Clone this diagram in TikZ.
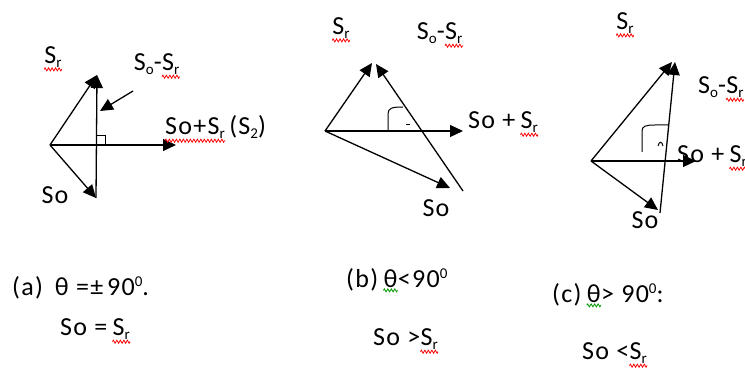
\documentclass[tikz,border=0pt]{standalone}
\usepackage{fontspec}
\setmainfont[LetterSpace=5]{Carlito}
\usetikzlibrary{arrows.meta,decorations.pathmorphing}
\newcommand\sbs[1]{\raisebox{-3.5pt}{\fontsize{15}{15}\selectfont #1}}
\newcommand\sps[1]{\raisebox{9pt}{\fontsize{15}{15}\selectfont #1}}
\begin{document}
\begin{tikzpicture}[x=1pt,y=-1pt,
  vec/.style={-{Triangle[length=13pt,width=12pt]}, line width=1.3pt},
  anglemark/.style={line width=1pt},
  lbl/.style={font=\fontsize{26}{30}\selectfont, inner sep=0pt},
  wav/.style={draw=red, line width=0.8pt, decorate,
    decoration={zigzag, segment length=3.5pt, amplitude=1.5pt}}]
\newcommand\wv[2][red]{\draw[wav,draw=#1] ([yshift=-2pt]#2.south west) -- ([yshift=-2pt]#2.south east);}
\useasboundingbox (0,0) rectangle (745,371);
\clip (0,0) rectangle (745,371);
% ---------- (a)
\coordinate (O1) at (50,145);
\coordinate (A1) at (97,75);
\coordinate (B1) at (96,198);
\coordinate (H1) at (176,145);
\coordinate (P1s) at (133,91);
\coordinate (P1e) at (100,111);
\draw[vec] (O1) -- (A1);
\draw[vec] (O1) -- (B1);
\draw[vec] (O1) -- (H1);
\draw[vec] (B1) -- (A1);
\draw[anglemark] (96,136) -- (105,136) -- (105,145);
\draw[vec] (P1s) -- (P1e);
\node[lbl] (Lsr1) at (53,57) {S\sbs{r}}; \wv{Lsr1}
\node[lbl, anchor=base east] (Ldiff1a) at (162,71) {S\sbs{o}-};
\node[lbl, anchor=base west] (Ldiff1b) at (Ldiff1a.base east) {S\sbs{r}}; \wv{Ldiff1b}
\node[lbl, anchor=base west] (Lsum1a) at (165,135) {So+S\sbs{r}}; \wv{Lsum1a}
\node[lbl, anchor=base west] (Lsum1b) at (Lsum1a.base east) {\kern4pt(S\sbs{2})};
\node[lbl] (Lso1) at (55,195) {So};
% ---------- (b)
\coordinate (O2) at (325,131);
\coordinate (A2) at (372,63);
\coordinate (A2b) at (376,64);
\coordinate (H2) at (463,131);
\coordinate (B2) at (450,188);
\coordinate (C2) at (463,191);
\draw[vec] (O2) -- (A2);
\draw[vec] (O2) -- (H2);
\draw[vec] (O2) -- (B2);
\draw[vec] (C2) -- (A2b);
\draw[anglemark] (388,131) -- (388,114) .. controls (388,108) and (392,107) .. (403,107);
\draw[anglemark] (406,125) -- (410,125);
\node[lbl] (Lsr2) at (341,28) {S\sbs{r}}; \wv{Lsr2}
\node[lbl, anchor=base east] (Ldiff2a) at (445,40) {S\sbs{o}-};
\node[lbl, anchor=base west] (Ldiff2b) at (Ldiff2a.base east) {S\sbs{r}}; \wv{Ldiff2b}
\node[lbl, anchor=base west] (Lsum2a) at (468,129) {So +\kern5pt};
\node[lbl, anchor=base west] (Lsum2b) at (Lsum2a.base east) {S\sbs{r}}; \wv{Lsum2b}
\node[lbl] (Lso2) at (436,208) {So};
% ---------- (c)
\coordinate (O3) at (591,161);
\coordinate (A3) at (672,62);
\coordinate (A3b) at (675,62);
\coordinate (H3) at (696,161);
\coordinate (B3) at (658,210);
\coordinate (C3) at (660,213);
\draw[vec] (O3) -- (A3);
\draw[vec] (O3) -- (H3);
\draw[vec] (O3) -- (B3);
\draw[vec] (C3) -- (A3b);
\draw[anglemark] (642,152) -- (642,131) .. controls (642,126) and (646,125) .. (655,125) -- (668,125);
\draw[anglemark] (658,146) .. controls (659,141) and (662,141) .. (663,146);
\node[lbl] (Lsr3) at (625,23) {S\sbs{r}}; \wv{Lsr3}
\node[lbl, anchor=base west] (Ldiff3a) at (698,94) {S\sbs{o}-};
\node[lbl, anchor=base west] (Ldiff3b) at (Ldiff3a.base east) {S\sbs{r}}; \wv{Ldiff3b}
\node[lbl, anchor=base west] (Lsum3a) at (677,163) {So +\kern5pt};
\node[lbl, anchor=base west] (Lsum3b) at (Lsum3a.base east) {S\sbs{r}}; \wv{Lsum3b}
\node[lbl] (Lso3) at (645,220) {So};
% ---------- captions
\node[lbl, anchor=base west] (capa) at (12,296) {(a)\kern12pt θ =±\kern4pt 90\sps{0}.};
\node[lbl, anchor=base west] (capa2a) at (60,336) {So =\kern5pt};
\node[lbl, anchor=base west] (capa2b) at (capa2a.base east) {S\sbs{r}}; \wv{capa2b}
\node[lbl, anchor=base west] (capba) at (346,288) {(b)\kern5pt};
\node[lbl, anchor=base west] (capbb) at (capba.base east) {θ}; \wv[green!60!black]{capbb}
\node[lbl, anchor=base west] (capbc) at (capbb.base east) {<90\sps{0}};
\node[lbl, anchor=base west] (capb2a) at (373,346) {So >};
\node[lbl, anchor=base west] (capb2b) at (capb2a.base east) {S\sbs{r}}; \wv{capb2b}
\node[lbl, anchor=base west] (capca) at (552,303) {(c)\kern5pt};
\node[lbl, anchor=base west] (capcb) at (capca.base east) {θ}; \wv[green!60!black]{capcb}
\node[lbl, anchor=base west] (capcc) at (capcb.base east) {> 90\sps{0}:};
\node[lbl, anchor=base west] (capc2a) at (582,360) {So <};
\node[lbl, anchor=base west] (capc2b) at (capc2a.base east) {S\sbs{r}}; \wv{capc2b}
\end{tikzpicture}
\end{document}
